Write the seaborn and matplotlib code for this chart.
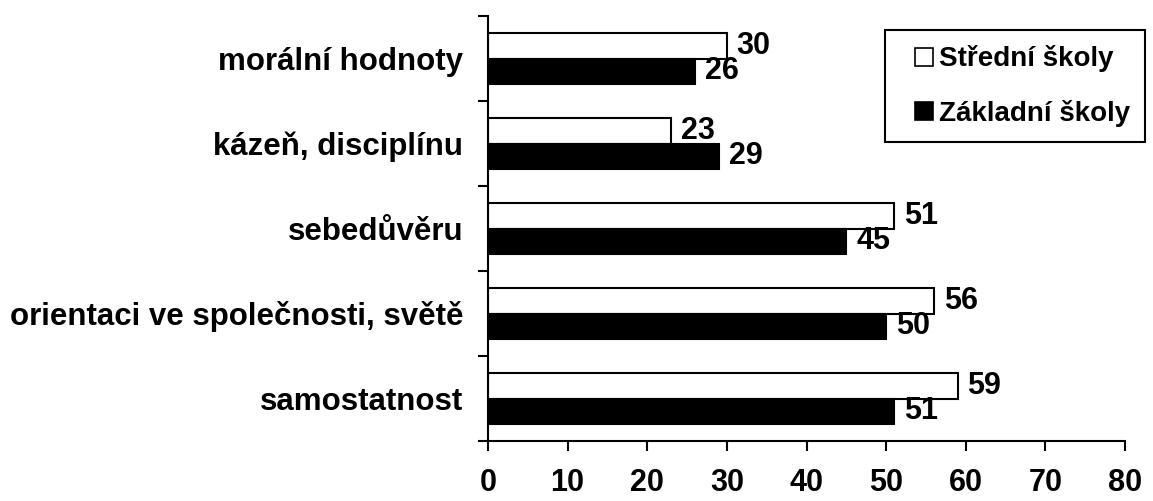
import numpy as np
import pandas as pd
import matplotlib
matplotlib.use('Agg')
import matplotlib.pyplot as plt
from matplotlib.lines import Line2D
import seaborn as sns

# ── data ──────────────────────────────────────────────
categories = ["morální hodnoty", "kázeň, disciplínu", "sebedůvěru",
              "orientaci ve společnosti, světě", "samostatnost"]
stredni = [30, 23, 51, 56, 59]
zakladni = [26, 29, 45, 50, 51]
series = ["Střední školy", "Základní školy"]
x_ticks = [0, 10, 20, 30, 40, 50, 60, 70, 80]
colors = {series[0]: 'white', series[1]: 'black'}

df = pd.DataFrame({
    'kategorie': categories * 2,
    'hodnota': stredni + zakladni,
    'typ': [series[0]] * len(categories) + [series[1]] * len(categories),
})

sns.set_style('ticks')
plt.rcParams['font.family'] = ['Liberation Sans', 'DejaVu Sans']
plt.rcParams['font.weight'] = 'bold'
plt.rcParams['text.color'] = 'black'
plt.rcParams['xtick.color'] = 'black'
plt.rcParams['ytick.color'] = 'black'
plt.rcParams['axes.edgecolor'] = 'black'

fig = plt.figure(figsize=(11.53, 5.01), dpi=100)
ax = fig.add_axes([488 / 1153, 1 - 441 / 501, 637 / 1153, 425 / 501])

sns.barplot(data=df, y='kategorie', x='hodnota', hue='typ', orient='h',
            hue_order=series, order=categories, palette=colors,
            saturation=1, edgecolor='black', linewidth=1.5, width=0.6,
            legend=False, ax=ax)

for cont in ax.containers:
    ax.bar_label(cont, padding=7, fontsize=22, fontweight='bold', color='black')

ax.set_xlim(0, 80)
ax.set_ylim(len(categories) - 0.5, -0.5)
ax.set_xticks(x_ticks)
ax.set_xlabel('')
ax.set_ylabel('')

# category labels at centres, tick marks at band boundaries
ax.set_yticks(range(len(categories)))
ax.set_yticklabels(categories, fontsize=22.5, fontweight='bold', color='black')
ax.tick_params(axis='y', which='major', length=0, pad=18)
ax.set_yticks(np.arange(-0.5, len(categories), 1.0), minor=True)
ax.tick_params(axis='y', which='minor', length=7.5, width=1.5, direction='out')
ax.tick_params(axis='x', length=7.5, width=1.5, direction='out', pad=12,
               labelsize=22)
for lbl in ax.get_xticklabels():
    lbl.set_fontweight('bold')

sns.despine(ax=ax)
ax.spines['left'].set_linewidth(1.5)
ax.spines['bottom'].set_linewidth(1.5)

# legend with square markers
handles = [Line2D([], [], marker='s', linestyle='none', markersize=13.5,
                  markerfacecolor=colors[s], markeredgecolor='black',
                  markeredgewidth=1.2) for s in series]
leg = ax.legend(handles, series, loc='upper left',
                bbox_to_anchor=(0.623, 0.967),
                prop={'size': 20, 'weight': 'bold'},
                handlelength=1.7, handletextpad=-0.3, numpoints=1,
                labelspacing=1.0, borderpad=0.55, borderaxespad=0,
                fancybox=False, framealpha=1, edgecolor='black')
leg.get_frame().set_linewidth(1.5)
for t in leg.get_texts():
    t.set_color('black')

fig.savefig('out.png', dpi=100)
